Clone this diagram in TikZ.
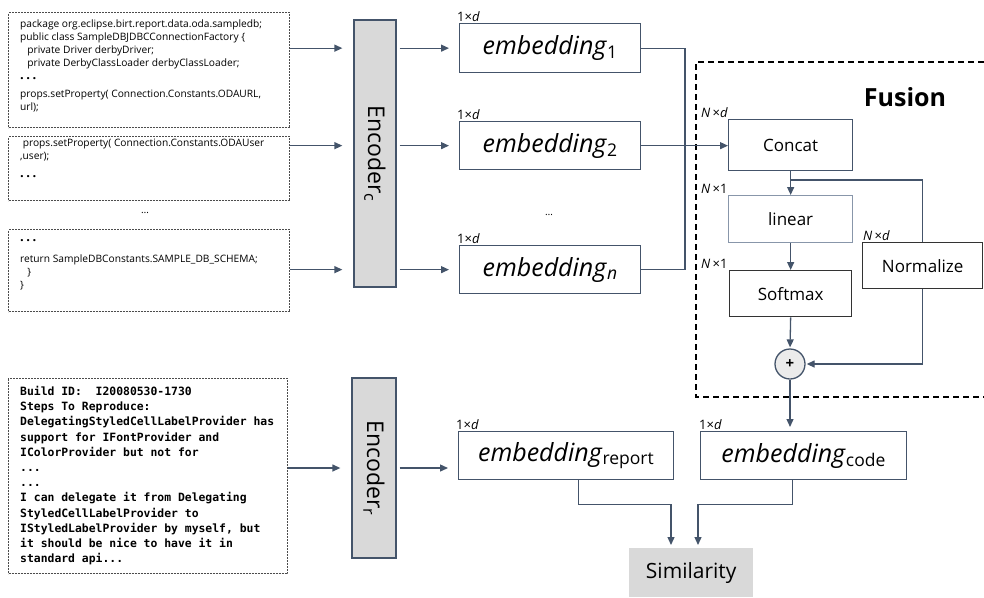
\documentclass[tikz,border=0pt]{standalone}
\usepackage{fontspec}
\setmainfont{Open Sans}
\setmonofont{DejaVu Sans Mono}
\usetikzlibrary{arrows.meta}
\definecolor{slate}{RGB}{68,84,106}
\definecolor{boxgray}{RGB}{217,217,217}
\definecolor{lightslate}{RGB}{136,150,170}

\newcommand{\codedots}{{\fontsize{13}{13}\selectfont\bfseries .\hspace{2.5pt}.\hspace{2.5pt}.}}

\tikzset{
  flow/.style={draw=slate, line width=1.3pt, -{Triangle[length=8pt,width=7pt]}},
  link/.style={draw=slate, line width=1.3pt},
  codebox/.style={draw=black!70, dash pattern=on 2pt off 1pt, line width=1pt, anchor=north west, inner sep=0pt},
  codetext/.style={anchor=north west, align=left, inner sep=0pt, font=\fontsize{10.2}{13}\selectfont},
  reporttext/.style={anchor=north west, align=left, inner sep=0pt, font=\fontsize{11.4}{15.2}\selectfont\ttfamily\bfseries},
  encbox/.style={draw=slate, fill=boxgray, line width=1.3pt, inner sep=0pt, rotate=-90, font=\fontsize{23}{24}\selectfont},
  embbox/.style={draw=slate, line width=1.3pt, anchor=north west, inner sep=0pt, font=\fontsize{25}{28}\selectfont},
  opbox/.style={draw=#1, line width=1.3pt, anchor=north west, inner sep=0pt, font=\fontsize{17}{20}\selectfont},
  dimlabel/.style={anchor=south west, inner sep=1pt, font=\fontsize{13}{14}\selectfont},
  gapdots/.style={inner sep=0pt, font=\fontsize{10}{10}\selectfont},
}

\begin{document}
\begin{tikzpicture}[x=1pt,y=-1pt]
  \useasboundingbox (0,0) rectangle (984,597);

  % code fragments of the source file
  \node[codebox, minimum width=281pt, minimum height=115pt] (c1) at (8,12) {};
  \node[codetext] (c1t) at ([shift={(12,8)}]c1.north west) {%
    package org.eclipse.birt.report.data.oda.sampledb;\\
    public class SampleDBJDBCConnectionFactory \{\\
    \hspace*{0.7em}private Driver derbyDriver;\\
    \hspace*{0.7em}private DerbyClassLoader derbyClassLoader;\\
    \codedots\\[5pt]
    props.setProperty( Connection.Constants.ODAURL,\\
    url);};

  \node[codebox, minimum width=281pt, minimum height=64pt] (c2) at (8,136) {};
  \node[codetext] (c2t) at ([shift={(12,3)}]c2.north west) {%
    \ props.setProperty( Connection.Constants.ODAUser\\
    ,user);\\[5pt]
    \codedots};

  \node[gapdots] (cdots) at (145,213) {\dots};

  \node[codebox, minimum width=281pt, minimum height=82pt] (c3) at (8,229) {};
  \node[codetext] (c3t) at ([shift={(12,10)}]c3.north west) {%
    \codedots\\[8pt]
    return SampleDBConstants.SAMPLE\_DB\_SCHEMA;\\
    \hspace*{0.7em}\}\\
    \}};

  % bug report text
  \node[codebox, minimum width=279pt, minimum height=195pt] (rep) at (8,378) {};
  \node[reporttext] (rept) at ([shift={(12,8)}]rep.north west) {%
    Build ID:\ \ I20080530-1730\\
    Steps To Reproduce:\\
    DelegatingStyledCellLabelProvider has\\
    support for IFontProvider and\\
    IColorProvider but not for\\
    ...\\
    ...\\
    I can delegate it from Delegating\\
    StyledCellLabelProvider to\\
    IStyledLabelProvider by myself, but\\
    it should be nice to have it in\\
    standard api...};

  % encoders
  \node[encbox, minimum width=267pt, minimum height=42pt] (encc) at (375,153.5) {Encoder\textsubscript{c}};
  \node[encbox, minimum width=180pt, minimum height=44pt] (encr) at (374,468) {Encoder\textsubscript{r}};

  % embeddings
  \node[embbox, minimum width=181pt, minimum height=49pt] (e1) at (459,23) {\textit{embedding}\textsubscript{1}};
  \node[embbox, minimum width=181pt, minimum height=48pt] (e2) at (459,121) {\textit{embedding}\textsubscript{2}};
  \node[embbox, minimum width=181pt, minimum height=48pt] (en) at (459,245) {\textit{embedding}\textsubscript{\textit{n}}};
  \node[gapdots] (edots) at (549,215) {\dots};
  \node[embbox, minimum width=215pt, minimum height=48pt] (erep) at (458,431) {\textit{embedding}\textsubscript{report}};
  \node[embbox, minimum width=206pt, minimum height=48pt] (ecode) at (700,431) {\textit{embedding}\textsubscript{code}};

  \node[dimlabel] (d1) at ([xshift=-3pt]e1.north west) {1×\textit{d}};
  \node[dimlabel] (d2) at ([xshift=-3pt]e2.north west) {1×\textit{d}};
  \node[dimlabel] (dn) at ([xshift=-3pt]en.north west) {1×\textit{d}};
  \node[dimlabel] (drep) at ([xshift=-3pt]erep.north west) {1×\textit{d}};
  \node[dimlabel] (dcode) at ([xshift=-2pt]ecode.north west) {1×\textit{d}};

  % fusion block
  \draw[dashed, line width=1.2pt, dash pattern=on 6pt off 4pt] (984,62) -- (696,62) -- (696,397) -- (984,397);
  \node[font=\fontsize{25}{28}\selectfont\bfseries] (fusion) at (905,97) {Fusion};

  \node[opbox=slate, minimum width=124pt, minimum height=51pt] (concat) at (728,119) {Concat};
  \node[opbox=lightslate, minimum width=124pt, minimum height=47pt] (linear) at (728,195) {linear};
  \node[opbox=black!80, minimum width=122pt, minimum height=46pt] (softmax) at (729,270) {Softmax};
  \node[opbox=black!80, minimum width=120pt, minimum height=46pt] (normalize) at (862,242) {Normalize};
  \node[circle, draw=slate, fill=black!8, line width=1.3pt, minimum size=30pt, inner sep=0pt,
        font=\fontsize{15}{15}\selectfont\bfseries] (plus) at (790,364) {+};

  \node[dimlabel] (dconcat) at ([xshift=-28pt]concat.north west) {\textit{N}\,×\textit{d}};
  \node[dimlabel] (dlinear) at ([xshift=-28pt]linear.north west) {\textit{N}\,×1};
  \node[dimlabel] (dsoftmax) at ([xshift=-29pt]softmax.north west) {\textit{N}\,×1};
  \node[dimlabel] (dnorm) at (normalize.north west) {\textit{N}\,×\textit{d}};

  % similarity
  \node[fill=boxgray, anchor=north west, inner sep=0pt, minimum width=124pt, minimum height=49pt,
        font=\fontsize{21}{24}\selectfont] (sim) at (629,548) {Similarity};

  % connectors (encoders are turned by -90, so south is their left side)
  \draw[flow, shorten >=11pt] (c1.east |- e1.west) -- (encc.south |- e1.west);
  \draw[flow, shorten >=11pt] (c2.east |- e2.west) -- (encc.south |- e2.west);
  \draw[flow, shorten >=11pt] (c3.east |- en.west) -- (encc.south |- en.west);
  \draw[flow, shorten >=11pt] (rep.east |- encr.center) -- (encr.south |- encr.center);

  \draw[flow, shorten <=3pt, shorten >=10pt] (encc.north |- e1.west) -- (e1.west);
  \draw[flow, shorten <=3pt, shorten >=10pt] (encc.north |- e2.west) -- (e2.west);
  \draw[flow, shorten <=3pt, shorten >=10pt] (encc.north |- en.west) -- (en.west);
  \draw[flow, shorten <=3pt, shorten >=10pt] (encr.north |- encr.center) -- (encr.center -| erep.west);

  \coordinate (merge) at (685,0);
  \draw[link] (e1.east) -| (merge |- en.east) -- (en.east);
  \draw[flow] (e2.east) -- (e2.east -| concat.west);

  \coordinate (split) at (790,180);
  \draw[flow] (concat.south) -- (linear.north);
  \draw[link] (split) -| (normalize.north);
  \draw[flow] (linear.south) -- (softmax.north);
  \draw[flow, shorten >=1pt] (softmax.south) -- (plus.north);
  \draw[flow, shorten >=1pt] (normalize.south) |- (plus.east);
  \draw[flow, shorten >=4pt] (plus.south) -- (plus.south |- ecode.north);

  \coordinate (simL) at (671,0);
  \coordinate (simR) at (698,0);
  \draw[flow, shorten >=3pt] ([xshift=12pt]erep.south) -- ++(0,24) -| (simL |- sim.north);
  \draw[flow, shorten >=3pt] ([xshift=-11pt]ecode.south) -- ++(0,24) -| (simR |- sim.north);
\end{tikzpicture}
\end{document}
